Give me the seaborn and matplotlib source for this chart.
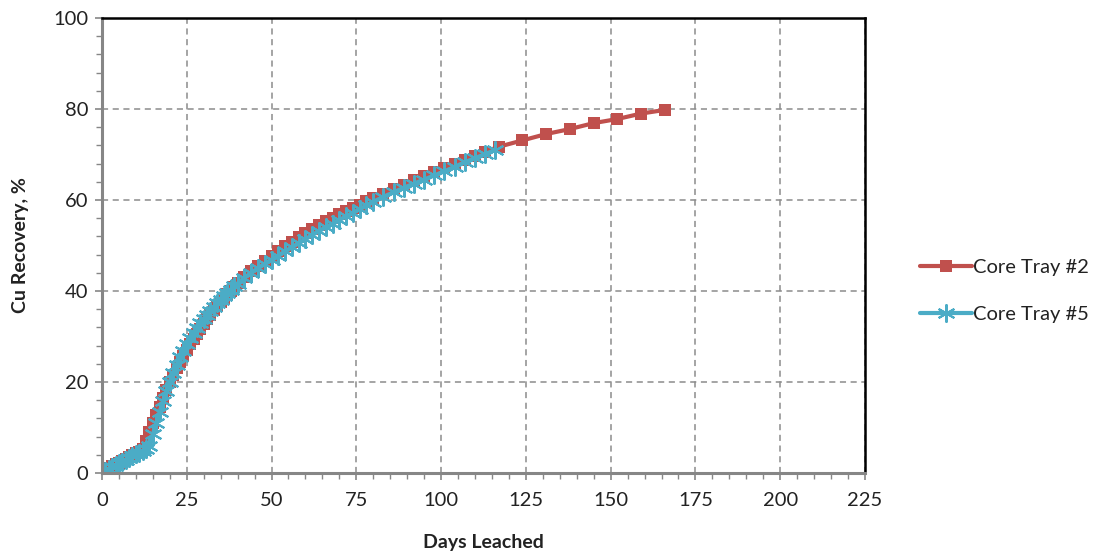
import numpy as np
import pandas as pd
import matplotlib.pyplot as plt
from matplotlib.ticker import MultipleLocator
import seaborn as sns

# Core Tray #2 - days leached and Cu recovery (%)
tray2_days = [0, 1, 2, 3, 4, 5, 6, 7, 8, 9, 10, 11, 12, 13, 14, 15, 16, 17, 18, 19, 20,
              21, 22, 23, 24, 25, 26, 27, 28, 29, 30, 31, 32, 33, 34, 35, 36, 37, 38, 39, 40,
              42, 44, 46, 48, 50, 52, 54, 56, 58, 60, 62, 64, 66, 68, 70, 72, 74, 76, 78, 80,
              83, 86, 89, 92, 95, 98, 101, 104, 107, 110, 113, 117,
              124, 131, 138, 145, 152, 159, 166]
tray2_rec = [0, 0.6, 1.1, 1.5, 1.9, 2.3, 2.7, 3.1, 3.5, 3.9, 4.3, 4.7, 5.2, 7.0, 9.0, 11.0, 12.8, 14.6, 16.4, 18.2, 19.9,
             21.5, 23.0, 24.4, 25.8, 27.1, 28.3, 29.5, 30.6, 31.7, 32.8, 33.8, 34.8, 35.8, 36.7, 37.6, 38.5, 39.3, 40.1, 40.9, 41.7,
             43.1, 44.4, 45.6, 46.7, 47.8, 48.8, 49.8, 50.8, 51.8, 52.7, 53.6, 54.5, 55.3, 56.1, 56.9, 57.6, 58.3, 59.0, 59.7, 60.4,
             61.4, 62.4, 63.4, 64.3, 65.2, 66.1, 67.0, 67.9, 68.8, 69.7, 70.6, 71.7,
             73.1, 74.5, 75.6, 76.9, 77.8, 79.0, 79.8]

# Core Tray #5
tray5_days = [0, 1, 2, 3, 4, 5, 6, 7, 8, 9, 10, 11, 12, 13, 14, 15, 16, 17, 18, 19, 20,
              21, 22, 23, 24, 25, 26, 27, 28, 29, 30, 31, 32, 33, 34, 35, 36, 37, 38, 39, 40,
              42, 44, 46, 48, 50, 52, 54, 56, 58, 60, 62, 64, 66, 68, 70, 72, 74, 76, 78, 80,
              83, 86, 89, 92, 95, 98, 101, 104, 107, 110, 113, 116]
tray5_rec = [0, 0.5, 0.9, 1.3, 1.7, 2.1, 2.5, 2.9, 3.3, 3.7, 4.1, 4.5, 4.9, 5.3, 6.0, 8.5, 11.0, 13.4, 15.8, 18.0, 20.1,
             22.0, 23.8, 25.4, 26.9, 28.3, 29.6, 30.8, 31.9, 32.9, 33.9, 34.8, 35.7, 36.5, 37.3, 38.1, 38.9, 39.6, 40.3, 41.0, 41.6,
             42.9, 44.0, 45.0, 46.0, 46.9, 47.8, 48.7, 49.6, 50.5, 51.4, 52.3, 53.2, 54.0, 54.8, 55.6, 56.4, 57.2, 58.0, 58.8, 59.6,
             60.7, 61.7, 62.7, 63.6, 64.5, 65.4, 66.3, 67.3, 68.3, 69.2, 70.1, 71.0]

sns.set_style("white")
plt.rcParams['font.family'] = ['Lato', 'DejaVu Sans']

fig = plt.figure(figsize=(11.07, 5.57), dpi=100)
ax = fig.add_axes([0.0921, 0.1508, 0.6893, 0.8169])

df2 = pd.DataFrame({'days': tray2_days, 'rec': tray2_rec})
df5 = pd.DataFrame({'days': tray5_days, 'rec': tray5_rec})

sns.lineplot(data=df2, x='days', y='rec', ax=ax, color='#C0504D', linewidth=3.0,
             marker='s', markersize=8, markeredgewidth=0, estimator=None, sort=False,
             label='Core Tray #2')
sns.lineplot(data=df5, x='days', y='rec', ax=ax, color='#4BACC6', linewidth=3.0,
             marker=(6, 2, 0), markersize=13, markeredgewidth=1.5, markeredgecolor='#4BACC6',
             estimator=None, sort=False, label='Core Tray #5')

ax.set_xlim(0, 225)
ax.set_ylim(0, 100)
ax.xaxis.set_major_locator(MultipleLocator(25))
ax.xaxis.set_minor_locator(MultipleLocator(5))
ax.yaxis.set_major_locator(MultipleLocator(20))
ax.yaxis.set_minor_locator(MultipleLocator(4))

ax.grid(True, which='major', color='#8c8c8c', linestyle=(0, (4, 3)), linewidth=1.1)
ax.set_axisbelow(True)

for side in ['left', 'bottom']:
    ax.spines[side].set_color('#868686')
    ax.spines[side].set_linewidth(2.2)
for side in ['top', 'right']:
    ax.spines[side].set_color('black')
    ax.spines[side].set_linewidth(1.8)

ax.tick_params(axis='both', which='major', direction='out', length=5, width=1.2,
               color='#868686', labelsize=14.5, labelcolor='#222222', pad=5)
ax.tick_params(axis='both', which='minor', direction='out', length=4, width=1.0,
               color='#868686')
ax.tick_params(axis='x', which='both', bottom=True)
ax.tick_params(axis='y', which='both', left=True)
ax.tick_params(axis='x', which='major', pad=9)

ax.set_xlabel('Days Leached', fontsize=14, fontweight='bold', color='#222222', labelpad=18)
ax.set_ylabel('Cu Recovery, %', fontsize=14, fontweight='bold', color='#222222', labelpad=17)

ax.legend(loc='center left', bbox_to_anchor=(1.072, 0.40), frameon=False, fontsize=14.5,
          handlelength=2.6, handletextpad=0.05, labelspacing=1.45, labelcolor='#222222',
          borderaxespad=0, borderpad=0)

fig.savefig('out.png', dpi=100)
